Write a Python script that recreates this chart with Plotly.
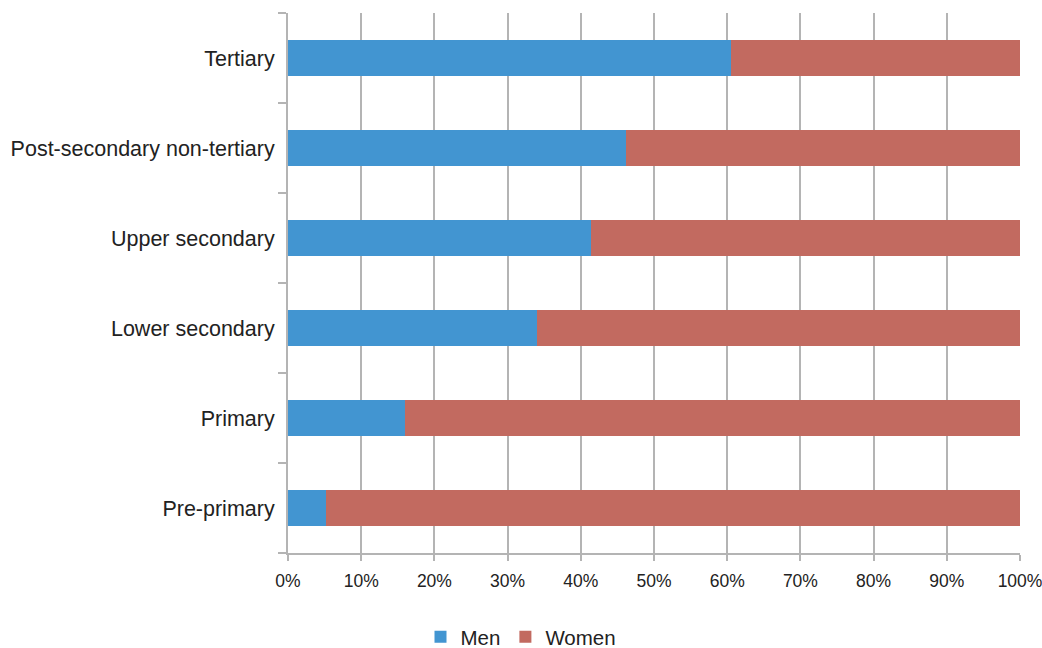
import plotly.graph_objects as go

# Share of teachers by sex at each education level (percent)
levels = ["Pre-primary", "Primary", "Lower secondary", "Upper secondary",
          "Post-secondary non-tertiary", "Tertiary"]
men = [5.2, 16.0, 34.0, 41.4, 46.2, 60.5]
women = [100 - v for v in men]
x_ticks = list(range(0, 101, 10))
x_tick_labels = [f"{t}%" for t in x_ticks]

fig = go.Figure()
fig.add_trace(go.Bar(y=levels, x=men, name="Men", orientation="h",
                     marker=dict(color="#4295D1", line=dict(width=0))))
fig.add_trace(go.Bar(y=levels, x=women, name="Women", orientation="h",
                     marker=dict(color="#C26A60", line=dict(width=0))))

grid = "#B4B4B4"
fig.update_layout(
    barmode="stack",
    bargap=0.6,
    width=1042, height=648,
    margin=dict(l=288, r=22, t=13, b=95, autoexpand=False),
    paper_bgcolor="white", plot_bgcolor="white",
    font=dict(family="Liberation Sans, Arial, sans-serif", size=18, color="#222222"),
    legend=dict(orientation="h", x=0.5, xanchor="center", xref="container",
                y=0.017, yanchor="middle", yref="container",
                font=dict(size=20.5), traceorder="normal"),
    xaxis=dict(range=[0, 100], tickvals=x_ticks, ticktext=x_tick_labels,
               showgrid=True, gridcolor=grid, gridwidth=2,
               showline=True, linecolor=grid, linewidth=2,
               ticks="outside", ticklen=6, tickcolor=grid, tickwidth=2,
               tickfont=dict(size=17.5), ticklabelstandoff=5,
               ticklabeloverflow="allow",
               zeroline=False, automargin=False),
    yaxis=dict(showgrid=False, showline=True, linecolor=grid, linewidth=2,
               ticks="outside", tickson="boundaries", ticklen=8,
               tickcolor=grid, tickwidth=2, tickfont=dict(size=21.5),
               ticklabelstandoff=7, zeroline=False, automargin=False),
)
fig.write_html("out.html")
